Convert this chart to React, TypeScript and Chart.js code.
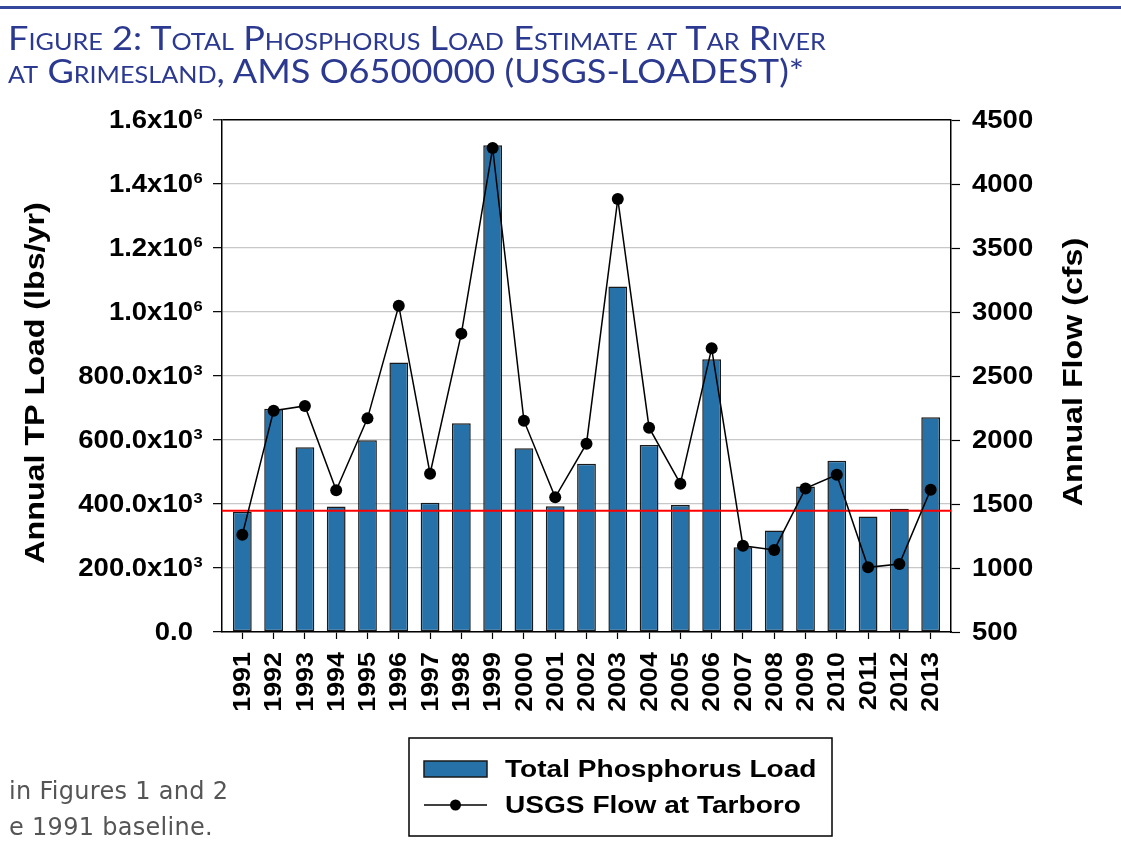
import React, { useEffect, useRef } from "react";
import { Chart, registerables } from "chart.js";

Chart.register(...registerables);

// ---------------- data ----------------
const years = [1991, 1992, 1993, 1994, 1995, 1996, 1997, 1998, 1999, 2000, 2001, 2002, 2003, 2004, 2005, 2006, 2007, 2008, 2009, 2010, 2011, 2012, 2013];
const tpLoad = [376000, 698000, 577000, 392000, 599000, 842000, 404000, 652000, 1521000, 574000, 393000, 526000, 1080000, 584000, 397000, 852000, 265000, 317000, 455000, 535000, 361000, 385000, 671000];
const flowCfs = [1260, 2229, 2266, 1607, 2169, 3049, 1737, 2831, 4281, 2151, 1552, 1971, 3883, 2096, 1659, 2716, 1174, 1141, 1622, 1729, 1005, 1031, 1612];
const baseline1991 = [379000];
const loadAxis = { min: 0, max: 1600000, step: 200000 };
const flowAxis = { min: 500, max: 4500, step: 500 };
const yearAxis = { min: 1990.35, max: 2013.65 };
const seriesLabels = ["Total Phosphorus Load", "USGS Flow at Tarboro"];
const axisTitles = { left: "Annual TP Load (lbs/yr)", right: "Annual Flow (cfs)" };

const BAR_COLOR = "#2671A8";
const FONT = '"Liberation Sans", Arial, Helvetica, sans-serif';

function loadLabel(v: number): [string, string] {
  if (v === 0) return ["0.0", ""];
  if (v >= 1000000) return [(v / 1000000).toFixed(1) + "x10", "6"];
  return [(v / 1000).toFixed(1) + "x10", "3"];
}

function drawText(
  ctx: CanvasRenderingContext2D,
  text: string,
  x: number,
  y: number,
  size: number,
  sx: number,
  align: CanvasTextAlign,
  rotate = 0,
  baseline: CanvasTextBaseline = "middle"
) {
  ctx.save();
  ctx.translate(x, y);
  if (rotate) ctx.rotate(rotate);
  ctx.scale(sx, 1);
  ctx.font = `bold ${size}px ${FONT}`;
  ctx.fillStyle = "#000";
  ctx.textAlign = align;
  ctx.textBaseline = baseline;
  ctx.fillText(text, 0, 0);
  ctx.restore();
}

const customDraw = {
  id: "customDraw",
  afterDraw(chart: any) {
    const ctx: CanvasRenderingContext2D = chart.ctx;
    const ys = chart.scales.y;
    const y1 = chart.scales.y1;
    const xs = chart.scales.x;
    const area = chart.chartArea;

    // left tick labels
    ys.ticks.forEach((t: any) => {
      const py = ys.getPixelForValue(t.value);
      const [main, sup] = loadLabel(t.value);
      const right = area.left - 29;
      drawText(ctx, main, right, py + 1, 25, 1.1, "right");
      if (sup) drawText(ctx, sup, right + 0.5, py - 5, 15, 1.1, "left");
    });

    // right tick labels
    y1.ticks.forEach((t: any) => {
      const py = y1.getPixelForValue(t.value);
      drawText(ctx, String(t.value), area.right + 21, py + 1, 25, 1.1, "left");
    });

    // x tick labels (rotated)
    xs.ticks.forEach((t: any) => {
      const px = xs.getPixelForValue(t.value);
      drawText(ctx, String(t.value), px + 1, area.bottom + 20, 24, 1.12, "right", -Math.PI / 2);
    });

    // axis titles
    drawText(ctx, axisTitles.left, 36, (area.top + area.bottom) / 2 + 7, 28, 1.15, "center", -Math.PI / 2);
    drawText(ctx, axisTitles.right, 1074, (area.top + area.bottom) / 2 - 4, 28, 1.15, "center", -Math.PI / 2);

    // legend box
    const lx = 409, ly = 738, lw = 423, lh = 98;
    ctx.save();
    ctx.fillStyle = "#fff";
    ctx.fillRect(lx, ly, lw, lh);
    ctx.strokeStyle = "#000";
    ctx.lineWidth = 1.5;
    ctx.strokeRect(lx, ly, lw, lh);
    const barDs = chart.data.datasets[2];
    const lineDs = chart.data.datasets[0];
    ctx.fillStyle = barDs.backgroundColor;
    ctx.fillRect(424, 761, 63, 16);
    ctx.strokeStyle = barDs.borderColor;
    ctx.lineWidth = 1.5;
    ctx.strokeRect(424, 761, 63, 16);
    ctx.strokeStyle = lineDs.borderColor;
    ctx.lineWidth = 1.5;
    ctx.beginPath();
    ctx.moveTo(424, 805);
    ctx.lineTo(487, 805);
    ctx.stroke();
    ctx.fillStyle = lineDs.pointBackgroundColor;
    ctx.beginPath();
    ctx.arc(455.5, 805, 5.5, 0, Math.PI * 2);
    ctx.fill();
    ctx.restore();
    drawText(ctx, barDs.label, 505, 770, 24, 1.17, "left");
    drawText(ctx, lineDs.label, 505, 806, 24, 1.17, "left");
  },
};

export default function App() {
  const canvasRef = useRef<HTMLCanvasElement | null>(null);

  useEffect(() => {
    const canvas = canvasRef.current;
    if (!canvas) return;
    const chart = new Chart(canvas, {
      type: "bar",
      data: {
        datasets: [
          {
            type: "line",
            label: seriesLabels[1],
            data: years.map((x, i) => ({ x, y: flowCfs[i] })),
            yAxisID: "y1",
            borderColor: "#000",
            borderWidth: 1.5,
            pointRadius: 6,
            pointBackgroundColor: "#000",
            pointBorderColor: "#000",
            pointBorderWidth: 0,
            tension: 0,
            order: 0,
          } as any,
          {
            type: "line",
            label: "1991 baseline",
            data: [
              { x: yearAxis.min, y: baseline1991[0] },
              { x: yearAxis.max, y: baseline1991[0] },
            ],
            yAxisID: "y",
            borderColor: "#ff0000",
            borderWidth: 2,
            pointRadius: 0,
            order: 1,
          } as any,
          {
            type: "bar",
            label: seriesLabels[0],
            data: years.map((x, i) => ({ x, y: tpLoad[i] })),
            yAxisID: "y",
            backgroundColor: BAR_COLOR,
            borderColor: "#1a1a1a",
            borderWidth: 1.5,
            borderSkipped: false,
            categoryPercentage: 1,
            barPercentage: 0.6,
            order: 2,
          } as any,
        ],
      },
      options: {
        animation: false,
        responsive: false,
        events: [],
        layout: { padding: { top: 120, left: 0, right: 0, bottom: 0 } },
        plugins: { legend: { display: false }, tooltip: { enabled: false } },
        scales: {
          x: {
            type: "linear",
            min: yearAxis.min,
            max: yearAxis.max,
            offset: false,
            afterFit: (s: any) => {
              s.height = 225;
            },
            ticks: { display: false, stepSize: 1, includeBounds: false, autoSkip: false },
            grid: {
              offset: false,
              drawOnChartArea: false,
              drawTicks: true,
              tickLength: 7,
              tickColor: "#000",
              tickWidth: 1.2,
            },
            border: { display: true, color: "#000", width: 1.5 },
          } as any,
          y: {
            type: "linear",
            position: "left",
            min: loadAxis.min,
            max: loadAxis.max,
            afterFit: (s: any) => {
              s.width = 222;
            },
            ticks: { display: false, stepSize: loadAxis.step },
            grid: {
              drawOnChartArea: true,
              drawTicks: true,
              tickLength: 9,
              tickColor: "#000",
              tickWidth: 1.2,
              color: (c: any) => (c.tick && c.tick.value === loadAxis.max ? "#000" : "#c8c8c8"),
              lineWidth: (c: any) => (c.tick && c.tick.value === loadAxis.max ? 1.5 : 1.3),
            },
            border: { display: true, color: "#000", width: 1.5 },
          } as any,
          y1: {
            type: "linear",
            position: "right",
            min: flowAxis.min,
            max: flowAxis.max,
            afterFit: (s: any) => {
              s.width = 170;
            },
            ticks: { display: false, stepSize: flowAxis.step },
            grid: {
              drawOnChartArea: false,
              drawTicks: true,
              tickLength: 9,
              tickColor: "#000",
              tickWidth: 1.2,
            },
            border: { display: true, color: "#000", width: 1.5 },
          } as any,
        },
      } as any,
      plugins: [customDraw],
    });
    return () => chart.destroy();
  }, []);

  return (
    <div style={{ position: "absolute", left: 0, top: 0, width: 1121, height: 857, background: "#fff", overflow: "hidden" }}>
      <canvas ref={canvasRef} width={1121} height={857} style={{ position: "absolute", left: 0, top: 0 }} />
      <div style={{ position: "absolute", left: 0, top: 6, width: 1121, height: 3, background: "#34479A" }} />
      <div
        style={{
          position: "absolute",
          left: 8,
          top: 21,
          color: "#2B3990",
          fontFamily: "Lato, 'Open Sans', sans-serif",
          fontVariant: "small-caps",
          fontSize: 33,
          lineHeight: "33px",
          whiteSpace: "nowrap",
          transform: "scaleX(1.095)",
          transformOrigin: "0 0",
        }}
      >
        <div>Figure 2: Total Phosphorus Load Estimate at Tar River</div>
        <div>at Grimesland, AMS O6500000 (USGS-LOADEST)*</div>
      </div>
      <div
        style={{
          position: "absolute",
          left: 9,
          top: 773,
          color: "#555",
          fontFamily: "'DejaVu Sans', sans-serif",
          fontSize: 24,
          lineHeight: "36px",
          letterSpacing: 0.3,
          whiteSpace: "nowrap",
        }}
      >
        <div>in Figures 1 and 2</div>
        <div>e 1991 baseline.</div>
      </div>
    </div>
  );
}
